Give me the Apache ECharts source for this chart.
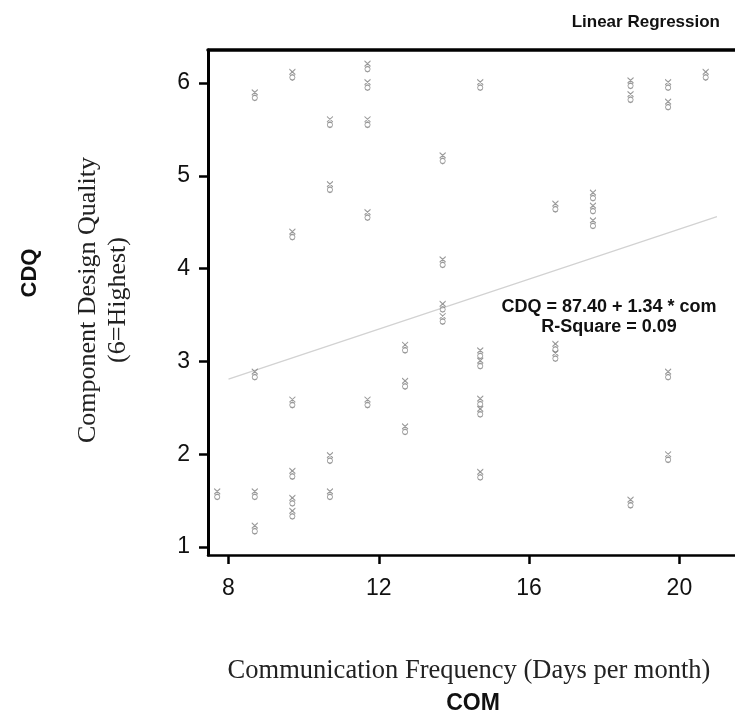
<!DOCTYPE html>
<html>
<head>
<meta charset="utf-8">
<script src="https://cdn.jsdelivr.net/npm/echarts@6.0.0/dist/echarts.min.js"></script>
<style>
  html, body { margin: 0; padding: 0; background: #ffffff; }
  #main { width: 735px; height: 711px; }
</style>
</head>
<body>
<div id="main"></div>
<script>
// COM (days per month) and CDQ values
var comX = [
  7.7,
  8.7, 8.7, 8.7, 8.7,
  9.7, 9.7, 9.7, 9.7, 9.7, 9.7,
  10.7, 10.7, 10.7, 10.7,
  11.7, 11.7, 11.7, 11.7, 11.7,
  12.7, 12.7, 12.7,
  13.7, 13.7, 13.7, 13.7,
  14.7, 14.7, 14.7, 14.7, 14.7, 14.7,
  16.7, 16.7, 16.7,
  17.7, 17.7, 17.7,
  18.7, 18.7, 18.7,
  19.7, 19.7, 19.7, 19.7,
  20.7
];
var cdqY = [
  1.57,
  5.87, 2.86, 1.57, 1.20,
  6.09, 4.37, 2.56, 1.79, 1.50, 1.36,
  5.58, 4.88, 1.96, 1.57,
  6.18, 5.98, 5.58, 4.58, 2.56,
  3.15, 2.76, 2.27,
  5.19, 4.07, 3.59, 3.46,
  5.98, 3.09, 2.98, 2.57, 2.46, 1.78,
  4.67, 3.16, 3.06,
  4.79, 4.65, 4.49,
  6.00, 5.85, 1.48,
  5.98, 5.77, 2.86, 1.97,
  6.09
];
// fitted line end points
var lineX = [8.0, 21.0];
var lineY = [2.81, 4.56];
var xTicks = [8, 12, 16, 20];
var yTicks = [1, 2, 3, 4, 5, 6];

var points = [];
for (var i = 0; i < comX.length; i++) {
  points.push([comX[i], cdqY[i]]);
}
var fit = [];
for (var j = 0; j < lineX.length; j++) {
  fit.push([lineX[j], lineY[j]]);
}

// small "x over o" glyph used by the original plot
var markPath = 'path://M0,0L6,6M6,0L0,6M3,6L5,7L5.6,9L5,11L3,12L1,11L0.4,9L1,7Z';

var chart = echarts.init(document.getElementById('main'));
var option = {
  animation: false,
  backgroundColor: '#ffffff',
  grid: { left: 208, right: 0, top: 50, bottom: 156 },
  xAxis: [
    {
      type: 'value',
      min: 7.455,
      max: 21.48,
      splitLine: { show: false },
      axisLine: { lineStyle: { color: '#000', width: 2.5 } },
      axisTick: { customValues: xTicks, length: 9, lineStyle: { color: '#000', width: 2.5 } },
      axisLabel: {
        customValues: xTicks,
        color: '#111',
        fontFamily: 'Liberation Sans, Arial',
        fontSize: 23,
        margin: 22
      }
    },
    {
      type: 'value',
      position: 'top',
      min: 7.455,
      max: 21.48,
      splitLine: { show: false },
      axisLine: { show: true, lineStyle: { color: '#000', width: 3.5 } },
      axisTick: { show: false },
      axisLabel: { show: false }
    }
  ],
  yAxis: {
    type: 'value',
    min: 0.914,
    max: 6.356,
    splitLine: { show: false },
    axisLine: { lineStyle: { color: '#000', width: 3 } },
    axisTick: { customValues: yTicks, length: 9, lineStyle: { color: '#000', width: 2.5 } },
    axisLabel: {
      customValues: yTicks,
      color: '#111',
      fontFamily: 'Liberation Sans, Arial',
      fontSize: 23,
      margin: 18
    }
  },
  series: [
    {
      type: 'line',
      data: fit,
      symbol: 'none',
      lineStyle: { color: '#d2d2d2', width: 1.2 },
      z: 1
    },
    {
      type: 'scatter',
      data: points,
      symbol: markPath,
      symbolSize: [6, 11],
      itemStyle: { color: 'none', borderColor: '#808080', borderWidth: 1 },
      z: 2
    }
  ],
  graphic: [
    {
      type: 'text', x: 720, y: 22,
      style: { text: 'Linear Regression', font: 'bold 17px Liberation Sans, Arial', fill: '#111', align: 'right', verticalAlign: 'middle' }
    },
    {
      type: 'text', x: 609, y: 307,
      style: { text: 'CDQ = 87.40 + 1.34 * com', font: 'bold 18px Liberation Sans, Arial', fill: '#111', align: 'center', verticalAlign: 'middle' }
    },
    {
      type: 'text', x: 609, y: 327,
      style: { text: 'R-Square = 0.09', font: 'bold 18px Liberation Sans, Arial', fill: '#111', align: 'center', verticalAlign: 'middle' }
    },
    {
      type: 'text', x: 30, y: 273, rotation: Math.PI / 2,
      style: { text: 'CDQ', font: 'bold 22px Liberation Sans, Arial', fill: '#111', align: 'center', verticalAlign: 'middle' }
    },
    {
      type: 'text', x: 88, y: 300, rotation: Math.PI / 2,
      style: { text: 'Component Design Quality', font: '26px Liberation Serif, Times New Roman', fill: '#222', align: 'center', verticalAlign: 'middle' }
    },
    {
      type: 'text', x: 118, y: 300, rotation: Math.PI / 2,
      style: { text: '(6=Highest)', font: '26px Liberation Serif, Times New Roman', fill: '#222', align: 'center', verticalAlign: 'middle' }
    },
    {
      type: 'text', x: 469, y: 671,
      style: { text: 'Communication Frequency (Days per month)', font: '26.5px Liberation Serif, Times New Roman', fill: '#222', align: 'center', verticalAlign: 'middle' }
    },
    {
      type: 'text', x: 473, y: 704,
      style: { text: 'COM', font: 'bold 23px Liberation Sans, Arial', fill: '#111', align: 'center', verticalAlign: 'middle' }
    }
  ]
};
chart.setOption(option);
</script>
</body>
</html>
